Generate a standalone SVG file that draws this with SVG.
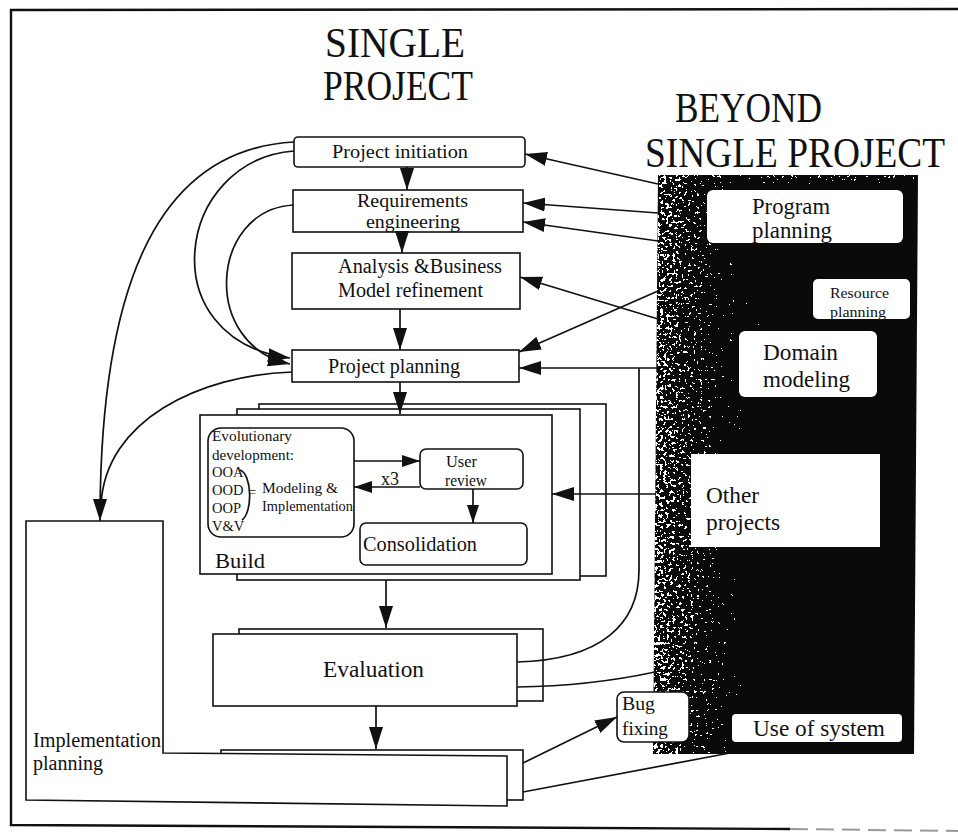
<svg xmlns="http://www.w3.org/2000/svg" width="958" height="834" viewBox="0 0 958 834">
  <style>
    text { font-family: "Liberation Serif", "Times New Roman", serif; fill: #111; }
    .box { fill: #fff; stroke: #111; stroke-width: 1.6; }
    .pbox { fill: #fff; stroke: none; }
    .ln { fill: none; stroke: #111; stroke-width: 1.7; }
    .title { font-size: 42px; }
    .t20 { font-size: 20px; }
    .t19 { font-size: 19px; }
    .t23 { font-size: 23px; }
    .t15 { font-size: 14.5px; }
  </style>
  <defs>
    <marker id="ah" markerUnits="userSpaceOnUse" markerWidth="24" markerHeight="16" refX="22" refY="8" orient="auto">
      <path d="M0,1 L22,8 L0,15 z" fill="#111"/>
    </marker>
    <marker id="ahs" markerUnits="userSpaceOnUse" markerWidth="20" markerHeight="14" refX="18" refY="7" orient="auto">
      <path d="M0,1 L18,7 L0,13 z" fill="#111"/>
    </marker>
    <linearGradient id="fadeX" x1="0" y1="0" x2="1" y2="0">
      <stop offset="0" stop-color="#ececec"/>
      <stop offset="0.4" stop-color="#c4c4c4"/>
      <stop offset="1" stop-color="#808080"/>
    </linearGradient>
    <linearGradient id="fadeY" x1="0" y1="0" x2="0" y2="1">
      <stop offset="0" stop-color="#d8d8d8"/>
      <stop offset="1" stop-color="#808080"/>
    </linearGradient>
    <!-- speckled scan texture: noise plus a density ramp, thresholded to white dots -->
    <filter id="grain" x="0" y="0" width="100%" height="100%" color-interpolation-filters="sRGB">
      <feTurbulence type="fractalNoise" baseFrequency="0.33" numOctaves="3" seed="11" result="n"/>
      <feColorMatrix in="n" type="matrix" values="1 0 0 0 0  1 0 0 0 0  1 0 0 0 0  0 0 0 0 1" result="g"/>
      <feComposite in="g" in2="SourceGraphic" operator="arithmetic" k1="0" k2="1" k3="1" k4="-0.98" result="s"/>
      <feColorMatrix in="s" type="matrix" values="0 0 0 0 1  0 0 0 0 1  0 0 0 0 1  1 0 0 0 0"/>
      <feComponentTransfer>
        <feFuncA type="discrete" tableValues="0 0 1 1"/>
      </feComponentTransfer>
    </filter>
    <clipPath id="panelClip">
      <polygon points="658,175 918,175 914,754 653,754"/>
    </clipPath>
  </defs>

  <rect width="958" height="834" fill="#fff"/>

  <!-- outer frame -->
  <path d="M958,9 L11,10 L11,825 L790,829" fill="none" stroke="#111" stroke-width="2.4"/>
  <path d="M790,829 L958,831" fill="none" stroke="#999" stroke-width="2" stroke-dasharray="18 8"/>

  <!-- headings -->
  <text class="title" x="325" y="57" textLength="140" lengthAdjust="spacingAndGlyphs">SINGLE</text>
  <text class="title" x="323" y="100" textLength="150" lengthAdjust="spacingAndGlyphs">PROJECT</text>
  <text class="title" x="675" y="122" textLength="147" lengthAdjust="spacingAndGlyphs">BEYOND</text>
  <text class="title" transform="translate(645,167) scale(0.89,1)" x="0" y="0">SINGLE PROJECT</text>

  <!-- dark band: beyond single project -->
  <g id="beyond-panel">
    <polygon points="658,175 918,175 914,754 653,754" fill="#0a0a0a"/>
    <g clip-path="url(#panelClip)">
      <rect x="653" y="175" width="130" height="580" fill="url(#fadeX)" filter="url(#grain)"/>
      <rect x="653" y="175" width="265" height="16" fill="url(#fadeY)" filter="url(#grain)"/>
    </g>
  </g>

  <!-- single project flow -->
  <g id="project-initiation">
    <rect class="box" x="294" y="137" width="231" height="30" rx="4"/>
    <text class="t19" x="332" y="158" textLength="136" lengthAdjust="spacingAndGlyphs">Project initiation</text>
  </g>
  <g id="requirements-engineering">
    <rect class="box" x="293" y="190" width="230" height="42"/>
    <text class="t19" x="357" y="207" textLength="111" lengthAdjust="spacingAndGlyphs">Requirements</text>
    <text class="t19" x="366" y="228" textLength="94" lengthAdjust="spacingAndGlyphs">engineering</text>
  </g>
  <g id="analysis">
    <rect class="box" x="292" y="253" width="228" height="56"/>
    <text class="t20" x="338" y="273" textLength="164" lengthAdjust="spacingAndGlyphs">Analysis &amp;Business</text>
    <text class="t20" x="338" y="297" textLength="145" lengthAdjust="spacingAndGlyphs">Model refinement</text>
  </g>
  <g id="project-planning">
    <rect class="box" x="292" y="350" width="227" height="32"/>
    <text class="t20" x="328" y="373" textLength="132" lengthAdjust="spacingAndGlyphs">Project planning</text>
  </g>

  <g id="build">
    <rect class="box" x="259" y="404" width="347" height="172"/>
    <rect class="box" x="237" y="409" width="343" height="171"/>
    <rect class="box" x="200" y="415" width="352" height="159"/>
    <text class="t20" x="215" y="568" textLength="50" lengthAdjust="spacingAndGlyphs">Build</text>
  </g>
  <g id="evolutionary-development">
    <rect class="box" x="208" y="428" width="146" height="109" rx="13"/>
    <text class="t15" x="212" y="441" textLength="80" lengthAdjust="spacingAndGlyphs">Evolutionary</text>
    <text class="t15" x="212" y="460" textLength="82" lengthAdjust="spacingAndGlyphs">development:</text>
    <text class="t15" x="212" y="477">OOA</text>
    <text class="t15" x="212" y="495">OOD</text>
    <text class="t15" x="212" y="513">OOP</text>
    <text class="t15" x="212" y="531">V&amp;V</text>
    <path class="ln" d="M240,470 C252,474 253,512 242,520" stroke-width="1.4"/>
    <text class="t15" x="248" y="497">=</text>
    <text class="t15" x="262" y="493" textLength="76" lengthAdjust="spacingAndGlyphs">Modeling  &amp;</text>
    <text class="t15" x="262" y="511" textLength="91" lengthAdjust="spacingAndGlyphs">Implementation</text>
  </g>
  <g id="user-review">
    <rect class="box" x="420" y="449" width="103" height="40" rx="6"/>
    <text x="446" y="467" font-size="16" textLength="31" lengthAdjust="spacingAndGlyphs">User</text>
    <text x="445" y="486" font-size="16" textLength="42" lengthAdjust="spacingAndGlyphs">review</text>
  </g>
  <g id="consolidation">
    <rect class="box" x="360" y="523" width="167" height="42" rx="6"/>
    <text class="t20" x="363" y="551" textLength="114" lengthAdjust="spacingAndGlyphs">Consolidation</text>
  </g>

  <g id="evaluation">
    <rect class="box" x="239" y="629" width="304" height="72"/>
    <rect class="box" x="213" y="634" width="304" height="72"/>
    <text x="323" y="677" font-size="24" textLength="101" lengthAdjust="spacingAndGlyphs">Evaluation</text>
  </g>

  <g id="implementation-planning">
    <rect class="box" x="221" y="750" width="302" height="50"/>
    <polygon class="box" points="26,521 163,521 163,753 507,756 507,806 26,800"/>
    <text class="t20" x="33" y="747" textLength="128" lengthAdjust="spacingAndGlyphs">Implementation</text>
    <text class="t20" x="33" y="770" textLength="70" lengthAdjust="spacingAndGlyphs">planning</text>
  </g>

  <!-- beyond single project nodes -->
  <g id="program-planning">
    <rect class="pbox" x="707" y="190" width="196" height="53" rx="6"/>
    <text class="t23" x="752" y="214" textLength="78" lengthAdjust="spacingAndGlyphs">Program</text>
    <text class="t23" x="752" y="238" textLength="80" lengthAdjust="spacingAndGlyphs">planning</text>
  </g>
  <g id="resource-planning">
    <rect class="pbox" x="813" y="279" width="97" height="40" rx="5"/>
    <text x="830" y="298" font-size="15" textLength="59" lengthAdjust="spacingAndGlyphs">Resource</text>
    <text x="830" y="317" font-size="15" textLength="56" lengthAdjust="spacingAndGlyphs">planning</text>
  </g>
  <g id="domain-modeling">
    <rect class="pbox" x="739" y="331" width="138" height="66" rx="6"/>
    <text class="t23" x="763" y="360" textLength="75" lengthAdjust="spacingAndGlyphs">Domain</text>
    <text class="t23" x="763" y="387" textLength="87" lengthAdjust="spacingAndGlyphs">modeling</text>
  </g>
  <g id="other-projects">
    <rect class="pbox" x="691" y="454" width="189" height="93"/>
    <text class="t23" x="706" y="503" textLength="53" lengthAdjust="spacingAndGlyphs">Other</text>
    <text class="t23" x="706" y="530" textLength="74" lengthAdjust="spacingAndGlyphs">projects</text>
  </g>
  <g id="bug-fixing">
    <rect x="617" y="692" width="72" height="50" rx="7" fill="#fff" stroke="#111" stroke-width="1.6"/>
    <text x="622" y="710" font-size="18" textLength="33" lengthAdjust="spacingAndGlyphs">Bug</text>
    <text x="622" y="735" font-size="18" textLength="46" lengthAdjust="spacingAndGlyphs">fixing</text>
  </g>
  <g id="use-of-system">
    <rect class="pbox" x="732" y="714" width="170" height="28" rx="4"/>
    <text class="t23" x="753" y="736" textLength="132" lengthAdjust="spacingAndGlyphs">Use of system</text>
  </g>

  <!-- connectors -->
  <g id="connectors" class="ln">
    <path class="ln" d="M407,167 L407,190" marker-end="url(#ah)"/>
    <path class="ln" d="M402,232 L402,253" marker-end="url(#ah)"/>
    <path class="ln" d="M400,309 L400,350" marker-end="url(#ah)"/>
    <path class="ln" d="M400,382 L400,414" marker-end="url(#ah)"/>
    <path class="ln" d="M386,580 L386,628" marker-end="url(#ah)"/>
    <path class="ln" d="M376,706 L376,749" marker-end="url(#ah)"/>

    <path class="ln" d="M294,142 C150,150 100,300 100,521" marker-end="url(#ah)"/>
    <path class="ln" d="M294,151 C175,160 150,340 290,358" marker-end="url(#ah)"/>
    <path class="ln" d="M293,205 C210,210 200,345 290,364" marker-end="url(#ah)"/>
    <path class="ln" d="M292,372 C200,375 105,420 101,505"/>

    <path class="ln" d="M658,184 L525,154" marker-end="url(#ah)"/>
    <path class="ln" d="M658,213 L523,203" marker-end="url(#ah)"/>
    <path class="ln" d="M658,241 L523,222" marker-end="url(#ah)"/>
    <path class="ln" d="M658,319 L520,277" marker-end="url(#ah)"/>
    <path class="ln" d="M658,291 L519,352" marker-end="url(#ah)"/>
    <path class="ln" d="M658,368 L519,368" marker-end="url(#ah)"/>
    <path class="ln" d="M656,494 L552,494" marker-end="url(#ah)"/>

    <path class="ln" d="M517,662 C600,660 639,625 639,570 L639,368"/>
    <path class="ln" d="M517,687 Q590,686 655,672"/>
    <path class="ln" d="M523,763 L617,717" marker-end="url(#ah)"/>
    <path class="ln" d="M523,792 L730,753"/>

    <path class="ln" d="M354,461 L420,461" marker-end="url(#ahs)"/>
    <path class="ln" d="M420,487 L354,487" marker-end="url(#ahs)"/>
    <path class="ln" d="M473,489 L473,523" marker-end="url(#ahs)"/>
    <text x="381" y="485" font-size="18" stroke="none">x3</text>
  </g>
</svg>
